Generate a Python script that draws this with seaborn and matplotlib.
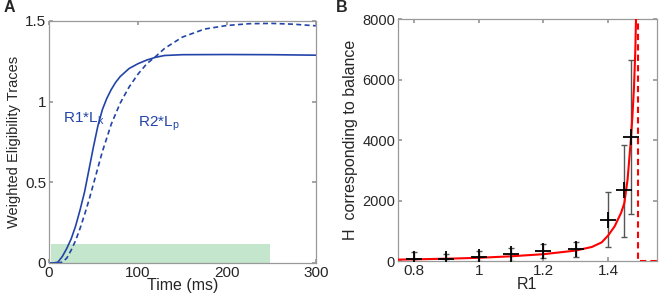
import numpy as np
import pandas as pd
import seaborn as sns
import matplotlib
matplotlib.use("Agg")
import matplotlib.pyplot as plt

# Panel A: weighted eligibility traces
t_lk = [0, 5, 10, 15, 20, 25, 30, 35, 40, 45, 50, 55, 60, 65, 70, 75, 80, 90, 100, 110, 120, 130, 150, 200, 250, 300]
lk = [0, 0, 0.005, 0.04, 0.09, 0.15, 0.23, 0.33, 0.44, 0.58, 0.72, 0.85, 0.95, 1.02, 1.075, 1.12, 1.155, 1.205, 1.235, 1.258, 1.275, 1.286, 1.291, 1.292, 1.291, 1.288]
t_lp = [0, 10, 15, 20, 25, 30, 35, 40, 45, 50, 55, 60, 70, 80, 90, 100, 110, 120, 130, 150, 175, 200, 225, 250, 275, 300]
lp = [0, 0, 0.005, 0.03, 0.08, 0.14, 0.215, 0.3, 0.39, 0.49, 0.59, 0.69, 0.86, 0.99, 1.09, 1.17, 1.235, 1.28, 1.33, 1.4, 1.45, 1.472, 1.483, 1.485, 1.48, 1.47]
stim_start, stim_end, stim_height = 2, 248, 0.115

# Panel B: H corresponding to balance vs R1
r1 = [0.8, 0.9, 1.0, 1.1, 1.2, 1.3, 1.4, 1.45, 1.47]
h = [60, 80, 130, 220, 330, 400, 1370, 2340, 4120]
h_lo = [0, 0, 0, 0, 110, 140, 470, 800, 1560]
h_hi = [300, 240, 330, 440, 550, 630, 2270, 3850, 6650]
fit_r1 = [0.75, 0.8, 0.9, 1.0, 1.1, 1.2, 1.3, 1.35, 1.38, 1.4, 1.42, 1.44, 1.45, 1.46, 1.47, 1.475, 1.48, 1.484, 1.487]
fit_h = [50, 60, 80, 110, 160, 230, 350, 470, 620, 850, 1150, 1600, 1920, 2700, 4000, 4800, 5800, 7000, 8500]
lim_r1 = [1.492, 1.492, 1.55]
lim_h = [8200, 20, 20]

sns.set_theme(style="white")
plt.rcParams['font.family'] = ['Liberation Sans', 'DejaVu Sans']

blue = '#2244a8'
fig = plt.figure(figsize=(6.62, 3.04), dpi=100)
ax1 = fig.add_axes([0.074, 0.135, 0.403, 0.796])
ax2 = fig.add_axes([0.601, 0.141, 0.391, 0.796])

# A
ax1.fill_between([stim_start, stim_end], 0, stim_height, color='#c3e6cc', lw=0)
sns.lineplot(x=t_lk, y=lk, ax=ax1, color=blue, lw=1.2)
sns.lineplot(x=t_lp, y=lp, ax=ax1, color=blue, lw=1.2, linestyle=(0, (3, 2)))
ax1.text(16, 0.87, r'R1*L$_\mathregular{k}$', color=blue, fontsize=11)
ax1.text(100, 0.85, r'R2*L$_\mathregular{p}$', color=blue, fontsize=11)
ax1.set_xlim(0, 300)
ax1.set_ylim(0, 1.5)
ax1.set_xticks([0, 100, 200, 300])
ax1.set_yticks([0, 0.5, 1, 1.5])
ax1.set_yticklabels(['0', '0.5', '1', '1.5'])
ax1.set_xlabel('Time (ms)', fontsize=11.5, labelpad=-1)
ax1.set_ylabel('Weighted Eligibility Traces', fontsize=10.5, labelpad=3)

# B
df = pd.DataFrame({'r1': r1, 'h': h})
ax2.errorbar(r1, h, yerr=[np.array(h) - np.array(h_lo), np.array(h_hi) - np.array(h)],
             fmt='none', ecolor='#555555', elinewidth=1, capsize=2.5, zorder=2)
sns.lineplot(x=fit_r1, y=fit_h, ax=ax2, color='red', lw=1.5, zorder=3)
sns.lineplot(x=lim_r1, y=lim_h, ax=ax2, color='red', lw=1.5, linestyle=(0, (3, 2)),
             sort=False, estimator=None, zorder=3)
sns.scatterplot(data=df, x='r1', y='h', ax=ax2, marker='+', s=130, color='black',
                linewidth=1.3, zorder=4)
ax2.set_xlim(0.75, 1.55)
ax2.set_ylim(0, 8000)
ax2.set_xticks([0.8, 1, 1.2, 1.4])
ax2.set_xticklabels(['0.8', '1', '1.2', '1.4'])
ax2.set_yticks([0, 2000, 4000, 6000, 8000])
ax2.set_xlabel('R1', fontsize=11.5, labelpad=-1)
ax2.set_ylabel('H  corresponding to balance', fontsize=11.5, labelpad=3)

for ax in (ax1, ax2):
    for s in ax.spines.values():
        s.set_color('#999999')
        s.set_linewidth(0.9)
    ax.tick_params(direction='in', length=3, color='#999999', labelsize=11,
                   top=True, right=True, bottom=True, left=True, pad=2)
ax2.tick_params(axis='y', labelsize=10.5)

fig.text(0.006, 0.962, 'A', fontsize=11.5, fontweight='bold')
fig.text(0.508, 0.962, 'B', fontsize=11.5, fontweight='bold')

fig.savefig('out.png', dpi=100)
